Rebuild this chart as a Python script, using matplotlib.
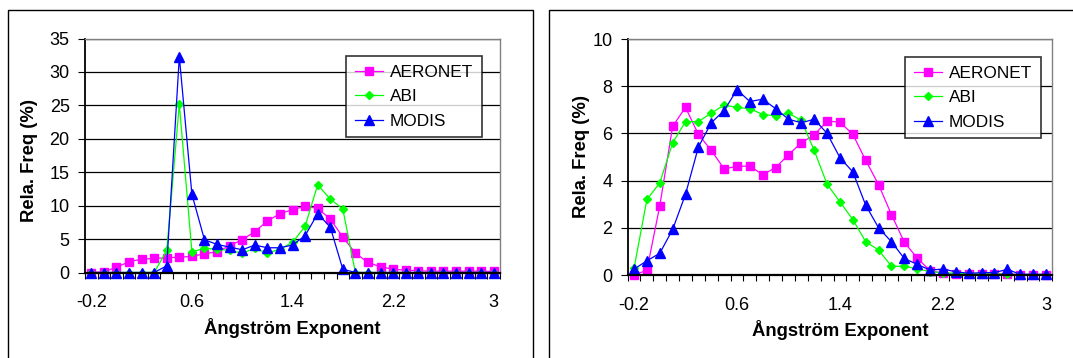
import matplotlib
matplotlib.use("Agg")
import matplotlib.pyplot as plt
from matplotlib.patches import Rectangle
from matplotlib.ticker import MultipleLocator, FixedLocator

plt.rcParams["font.family"] = ["Liberation Sans", "DejaVu Sans"]

# Angstrom exponent bins (category axis)
angstrom = [-0.2, -0.1, 0.0, 0.1, 0.2, 0.3, 0.4, 0.5, 0.6, 0.7, 0.8,
            0.9, 1.0, 1.1, 1.2, 1.3, 1.4, 1.5, 1.6, 1.7, 1.8, 1.9,
            2.0, 2.1, 2.2, 2.3, 2.4, 2.5, 2.6, 2.7, 2.8, 2.9, 3.0]
xtick_vals = [-0.2, 0.6, 1.4, 2.2, 3.0]
xtick_labels = ["-0.2", "0.6", "1.4", "2.2", "3"]

# left panel
left_aeronet = [0.0, 0.1, 0.8, 1.6, 2.0, 2.1, 2.2, 2.3, 2.4, 2.8, 3.1,
                4.0, 4.9, 6.1, 7.7, 8.8, 9.4, 9.9, 9.6, 8.0, 5.3, 2.9,
                1.5, 0.85, 0.5, 0.35, 0.25, 0.2, 0.2, 0.2, 0.2, 0.2, 0.15]
left_abi = [0.0, 0.0, 0.0, 0.0, 0.0, 0.0, 3.3, 25.2, 3.1, 3.6, 3.5,
            3.3, 2.9, 3.6, 2.9, 3.5, 4.5, 6.9, 13.1, 11.0, 9.5, 0.0,
            0.0, 0.0, 0.0, 0.0, 0.0, 0.0, 0.0, 0.0, 0.0, 0.0, 0.0]
left_modis = [0.0, 0.0, 0.0, 0.0, 0.0, 0.0, 1.0, 32.3, 11.7, 4.9, 4.2,
              3.8, 3.4, 4.1, 3.7, 3.7, 4.1, 5.5, 8.8, 6.8, 0.5, 0.0,
              0.0, 0.0, 0.0, 0.0, 0.0, 0.0, 0.0, 0.0, 0.0, 0.0, 0.0]

# right panel
right_aeronet = [0.0, 0.2, 2.93, 6.3, 7.1, 5.96, 5.28, 4.5, 4.6, 4.62, 4.25,
                 4.55, 5.1, 5.6, 5.94, 6.52, 6.48, 5.96, 4.86, 3.83, 2.56, 1.39,
                 0.72, 0.18, 0.08, 0.05, 0.05, 0.05, 0.05, 0.05, 0.02, 0.02, 0.0]
right_abi = [0.28, 3.2, 3.9, 5.6, 6.5, 6.5, 6.86, 7.2, 7.1, 7.05, 6.8,
             6.75, 6.86, 6.55, 5.28, 3.85, 3.1, 2.35, 1.41, 1.06, 0.37, 0.37,
             0.27, 0.14, 0.1, 0.07, 0.05, 0.05, 0.04, 0.03, 0.02, 0.02, 0.0]
right_modis = [0.25, 0.6, 0.92, 1.93, 3.42, 5.42, 6.45, 6.97, 7.85, 7.35, 7.45,
               7.05, 6.6, 6.45, 6.6, 6.0, 4.97, 4.37, 2.96, 2.0, 1.41, 0.7,
               0.45, 0.21, 0.25, 0.14, 0.07, 0.1, 0.1, 0.24, 0.03, 0.03, 0.03]

series_names = ["AERONET", "ABI", "MODIS"]
colors = ["#FF00FF", "#00FF00", "#0000FF"]
markers = ["s", "D", "^"]
msizes = [6.0, 4.3, 6.8]

W, H = 1073, 358
fig = plt.figure(figsize=(W / 100, H / 100), dpi=100)
fig.patch.set_facecolor("white")


def px_box(x0, y0, x1, y1):
    """pixel box (top-left origin) -> figure fraction rect"""
    return [x0 / W, 1 - y1 / H, (x1 - x0) / W, (y1 - y0) / H]


# chart-area borders
for bx0, bx1, by0 in [(7.5, 533, 9.5), (548.5, 1080, 10)]:
    fig.add_artist(Rectangle((bx0 / W, -0.1), (bx1 - bx0) / W, 1 - by0 / H + 0.1,
                             transform=fig.transFigure, fill=False,
                             edgecolor="black", linewidth=1.0, clip_on=False))

panels = [
    (px_box(85, 38.5, 500, 272.5), [left_aeronet, left_abi, left_modis], 35, 5,
     (346, 56), (-0.113, 0.48)),
    (px_box(627.6, 39, 1052.3, 275), [right_aeronet, right_abi, right_modis], 10, 2,
     (905, 57), (-0.0885, 0.5)),
]

for rect, data, ymax, ystep, leg_pos, ylab_xy in panels:
    ax = fig.add_axes(rect)
    for vals, name, c, m, ms in zip(data, series_names, colors, markers, msizes):
        ax.plot(angstrom, vals, color=c, marker=m, markersize=ms,
                markerfacecolor=c, markeredgecolor=c, linewidth=0.9,
                label=name, clip_on=False)

    ax.set_xlim(-0.25, 3.05)
    ax.set_ylim(0, ymax)
    ax.xaxis.set_major_locator(FixedLocator(xtick_vals))
    ax.set_xticklabels(xtick_labels)
    ax.xaxis.set_minor_locator(FixedLocator([-0.25 + 0.1 * k for k in range(34)]))
    ax.yaxis.set_major_locator(MultipleLocator(ystep))
    ax.tick_params(axis="x", which="major", length=0, pad=15.5, labelsize=13)
    ax.tick_params(axis="x", which="minor", length=4.5, width=0.8, direction="out")
    ax.tick_params(axis="y", which="major", length=5, width=0.8, pad=6, labelsize=13)

    ax.yaxis.grid(True, color="black", linewidth=0.9)
    ax.get_ygridlines()[-1].set_visible(False)
    ax.set_axisbelow(True)

    for s in ["top", "right"]:
        ax.spines[s].set_color("#808080")
        ax.spines[s].set_linewidth(1.0)
    ax.spines["left"].set_linewidth(1.3)
    ax.spines["bottom"].set_linewidth(1.6)

    ax.set_ylabel("Rela. Freq (%)", fontsize=13.3, fontweight="bold")
    ax.yaxis.set_label_coords(*ylab_xy)
    ax.set_xlabel("Ångström Exponent", fontsize=13.3, fontweight="bold", labelpad=5)

    lx, ly = leg_pos
    leg = ax.legend(loc="upper left", bbox_to_anchor=(lx / W, 1 - ly / H),
                    bbox_transform=fig.transFigure, borderaxespad=0,
                    fontsize=12.4, frameon=True, fancybox=False,
                    edgecolor="black", handlelength=1.65, handletextpad=0.4,
                    labelspacing=0.55, borderpad=0.5)
    leg.get_frame().set_linewidth(1.2)

fig.savefig("out.png", dpi=100, facecolor="white")
